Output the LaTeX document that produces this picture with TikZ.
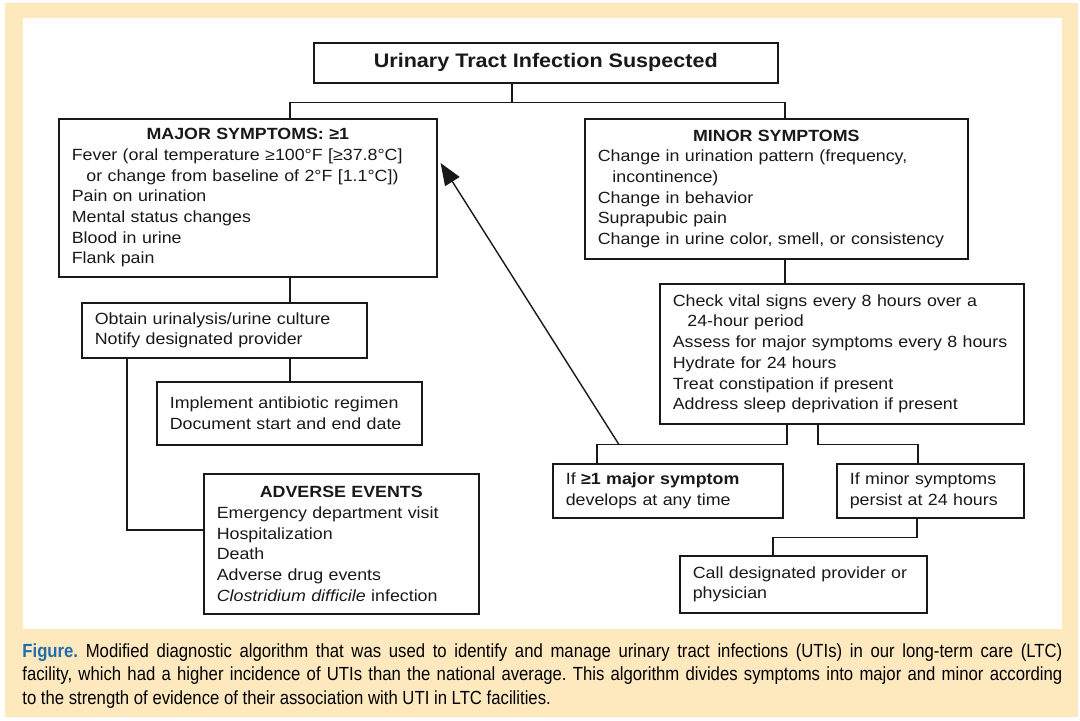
\documentclass[tikz,border=0pt]{standalone}
\usepackage{fontspec}
\setmainfont{Liberation Sans}[FakeStretch=1.1]
\newfontfamily\capfont{Liberation Sans}[FakeStretch=0.88]
\usetikzlibrary{arrows.meta}
\definecolor{panelbg}{RGB}{254,232,190}
\definecolor{figblue}{RGB}{30,110,175}
\definecolor{ink}{RGB}{25,25,25}
\tikzset{
	box/.style={draw=ink, line width=0.8pt, anchor=north west, align=left, inner xsep=6.5pt, inner ysep=0pt, text=ink, font=\fontsize{8.1}{10.35}\selectfont},
	link/.style={draw=ink, line width=0.7pt},
}

\begin{document}
\frenchspacing
\begin{tikzpicture}[x=0.5pt, y=-0.5pt]
		%%%%% START %%%%%
		\useasboundingbox (0,0) rectangle (1080,720);
		\fill[white] (0,0) rectangle (1080,720);
		\fill[panelbg] (5,3) rectangle (1078,717);
		\fill[white] (23,18) rectangle (1062,629);
		
		% boxes
		\node[box, align=center, minimum width=232pt, minimum height=20pt, font=\fontsize{9.8}{11}\selectfont\bfseries] (title) at (313,42) {Urinary Tract Infection Suspected};
		
		\node[box, minimum width=189pt, minimum height=79pt, text width=176pt] (major) at (58,118) {\makebox[\linewidth]{\bfseries MAJOR SYMPTOMS: ≥1}\\
			Fever (oral temperature ≥100°F [≥37.8°C]\\
			\hspace*{0.9em}or change from baseline of 2°F [1.1°C])\\
			Pain on urination\\
			Mental status changes\\
			Blood in urine\\
			Flank pain};
		
		\node[box, minimum width=191.5pt, minimum height=70pt, text width=178.5pt] (minor) at (584,118) {\makebox[\linewidth]{\bfseries MINOR SYMPTOMS}\\
			Change in urination pattern (frequency,\\
			\hspace*{0.9em}incontinence)\\
			Change in behavior\\
			Suprapubic pain\\
			Change in urine color, smell, or consistency};
		
		\node[box, minimum width=182pt, minimum height=70pt, text width=169pt] (check) at (659,283) {Check vital signs every 8 hours over a\\
			\hspace*{0.9em}24-hour period\\
			Assess for major symptoms every 8 hours\\
			Hydrate for 24 hours\\
			Treat constipation if present\\
			Address sleep deprivation if present};
		
		\node[box, minimum width=142.5pt, minimum height=27.5pt, text width=129.5pt] (obtain) at (81,302) {Obtain urinalysis/urine culture\\
			Notify designated provider};
		
		\node[box, minimum width=132.5pt, minimum height=31.5pt, text width=119.5pt] (implement) at (156,381) {Implement antibiotic regimen\\
			Document start and end date};
		
		\node[box, minimum width=137.5pt, minimum height=70pt, text width=124.5pt] (adverse) at (203,473) {\makebox[\linewidth]{\bfseries ADVERSE EVENTS}\\
			Emergency department visit\\
			Hospitalization\\
			Death\\
			Adverse drug events\\
			\textit{Clostridium difficile} infection};
		
		\node[box, minimum width=115pt, minimum height=27pt, text width=102pt] (ifmajor) at (552,463) {If \textbf{≥1 major symptom}\\
			develops at any time};
		
		\node[box, minimum width=93.5pt, minimum height=27pt, text width=80.5pt] (ifminor) at (836,463) {If minor symptoms\\
			persist at 24 hours};
		
		\node[box, minimum width=123.5pt, minimum height=28.5pt, text width=110.5pt] (call) at (679,555) {Call designated provider or\\
			physician};
		
		% connectors
		\draw[link] ([xshift=-17pt]title.south) -- ++(0,19) -| ([xshift=116pt]major.north west);
		\draw[link] ([xshift=-17pt]title.south) ++(0,19) -| ([xshift=100.5pt]minor.north west);
		\draw[link] ([xshift=100.5pt]minor.south west) -- ([xshift=100.5pt]minor.south west |- check.north);
		\draw[link] ([xshift=116pt]major.south west) -- ([xshift=116pt]major.south west |- obtain.north);
		\draw[link] ([xshift=104.5pt]obtain.south west) -- ([xshift=104.5pt]obtain.south west |- implement.north);
		\draw[link] ([xshift=23pt]obtain.south west) |- ([yshift=-28.5pt]adverse.north west);
		\draw[link] ([xshift=64pt]check.south west) -- ++(0,20) coordinate (fork) -| ([xshift=22.5pt]ifmajor.north west);
		\draw[link] ([xshift=79.5pt]check.south west) -- ++(0,20) -| ([xshift=41pt]ifminor.north west);
		\draw[link] ([xshift=40.5pt]ifminor.south west) -- ++(0,19) -| ([xshift=47pt]call.north west);
		\draw[link, -{Triangle[length=11pt, width=8.5pt]}] ([xshift=-84pt]fork) -- ([xshift=1.5pt, yshift=-22.5pt]major.north east);
		
		% caption
		\node[anchor=north west, inner sep=0pt, text width=520pt, align=justify, font=\capfont\fontsize{9.5}{11.75}\selectfont] (caption) at (22,643) {{\bfseries\color{figblue}Figure.} Modified diagnostic algorithm that was used to identify and manage urinary tract infections (UTIs) in our long-term care (LTC)\linebreak
			facility, which had a higher incidence of UTIs than the national average. This algorithm divides symptoms into major and minor according\linebreak
			to the strength of evidence of their association with UTI in LTC facilities.};
		%%%%% END %%%%%
\end{tikzpicture}
\end{document}
